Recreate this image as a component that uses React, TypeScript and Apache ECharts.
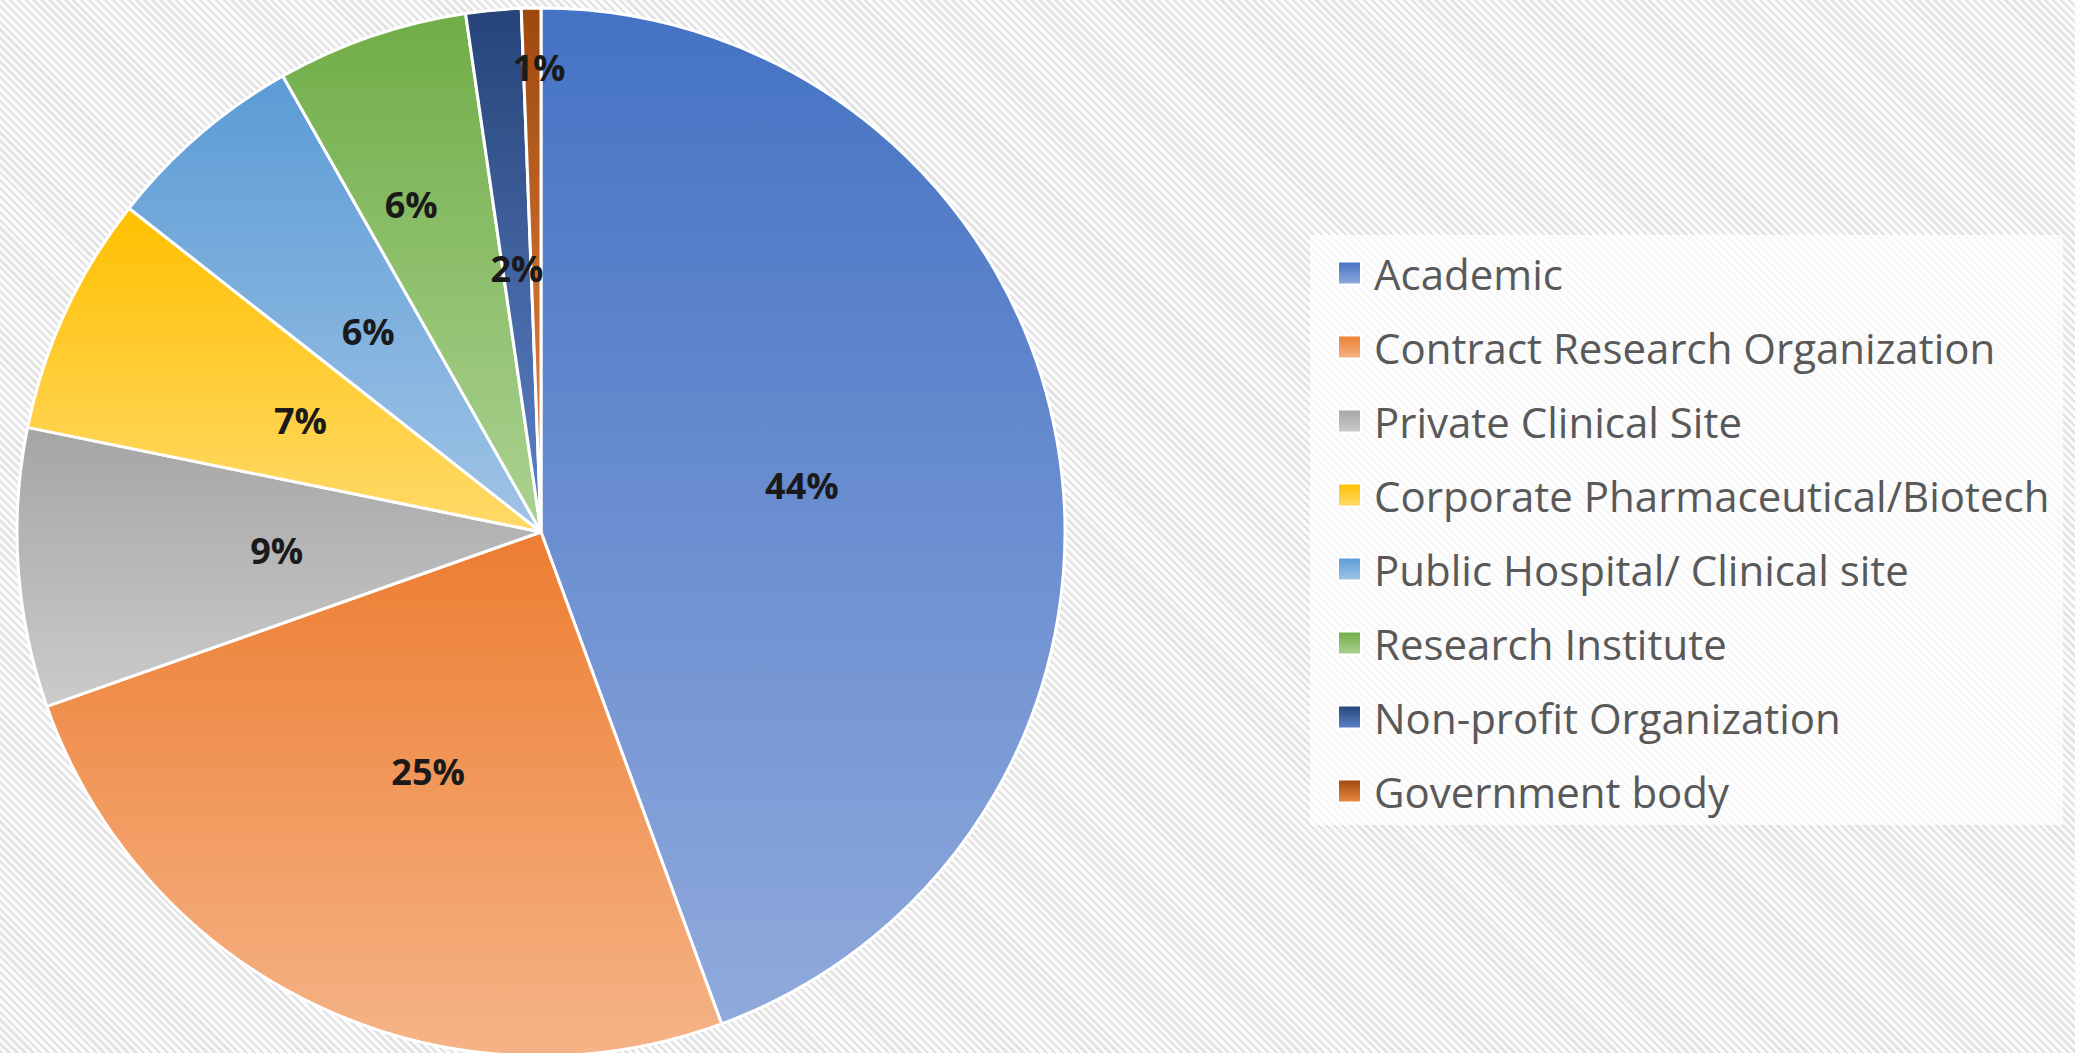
import React, { useEffect, useRef } from "react";
import * as echarts from "echarts";

const categories = [
  "Academic",
  "Contract Research Organization",
  "Private Clinical Site",
  "Corporate Pharmaceutical/Biotech",
  "Public Hospital/ Clinical site",
  "Research Institute",
  "Non-profit Organization",
  "Government body",
];
const values = [44.4, 25.2, 8.6, 7.4, 6.2, 5.9, 1.7, 0.6];
const topColors = ["#4472C4", "#ED7D31", "#A5A5A5", "#FFC000", "#5B9BD5", "#70AD47", "#264478", "#9E480E"];
const bottomColors = ["#90AADC", "#F5B487", "#CBCBCB", "#FFDA6A", "#A0C4E6", "#ACD292", "#5D82C9", "#EC8A45"];

function grad(i: number) {
  return new echarts.graphic.LinearGradient(0, 0, 0, 1, [
    { offset: 0, color: topColors[i] },
    { offset: 1, color: bottomColors[i] },
  ]);
}

export default function App() {
  const ref = useRef<HTMLDivElement>(null);
  useEffect(() => {
    if (!ref.current) return;
    const chart = echarts.init(ref.current, null, { renderer: "svg" });
    const data = categories.map((name, i) => {
      const item: any = {
        name,
        value: values[i],
        itemStyle: { color: grad(i) },
      };
      if (i === 5) {
        item.label = { offset: [-44, -77] };
      }
      if (i === categories.length - 1) {
        item.label = { offset: [3, -200] };
      }
      return item;
    });
    chart.setOption({
      animation: false,
      backgroundColor: "transparent",
      graphic: [
        {
          type: "rect",
          shape: { x: 1310, y: 235, width: 753, height: 590 },
          style: { fill: "rgba(255,255,255,0.72)" },
          z: 0,
        },
      ],
      legend: {
        orient: "vertical",
        left: 1337,
        top: 248,
        padding: 0,
        itemWidth: 23,
        itemHeight: 23,
        itemGap: 24,
        icon: "rect",
        selectedMode: false,
        textStyle: {
          fontFamily: "Open Sans",
          fontSize: 42,
          color: "#595959",
          lineHeight: 50,
          padding: [0, 0, 0, 8],
        },
        data: categories,
      },
      series: [
        {
          type: "pie",
          center: [541, 532],
          radius: 524,
          startAngle: 90,
          clockwise: true,
          avoidLabelOverlap: false,
          itemStyle: { borderColor: "#ffffff", borderWidth: 3 },
          label: {
            show: true,
            position: "inside",
            fontFamily: "Open Sans",
            fontWeight: "bold",
            fontSize: 36,
            color: "#1a1a1a",
            formatter: (p: any) => Math.round(p.percent) + "%",
          },
          labelLine: { show: false },
          emphasis: { disabled: true },
          data,
        },
      ],
    });
    return () => chart.dispose();
  }, []);
  return (
    <div
      style={{
        position: "fixed",
        left: 0,
        top: 0,
        width: 2075,
        height: 1053,
        background:
          "repeating-linear-gradient(45deg, #e2e2e2 0px, #e2e2e2 2.4px, #fbfbfb 2.4px, #fbfbfb 5.6px)",
      }}
    >
      <div ref={ref} style={{ width: 2075, height: 1053 }} />
    </div>
  );
}
